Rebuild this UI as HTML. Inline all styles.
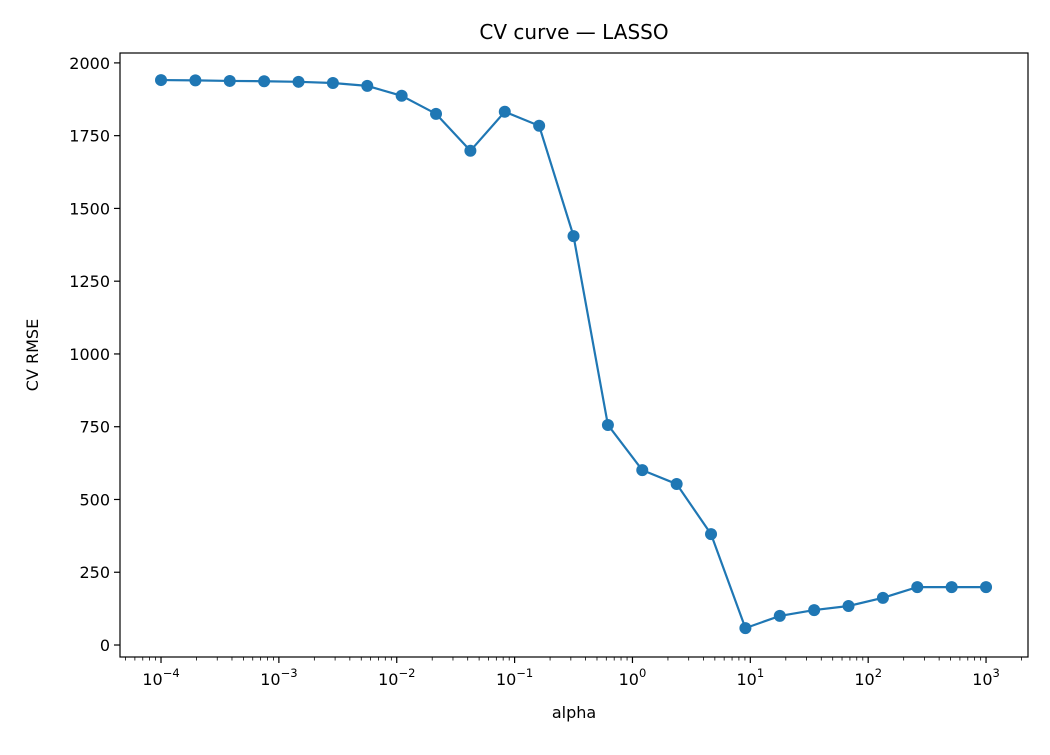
<!DOCTYPE html>
<html><head><meta charset="utf-8"><style>
body{margin:0;background:#fff;font-family:"Liberation Sans","DejaVu Sans",sans-serif;}
svg text{font-family:"DejaVu Sans","Liberation Sans",sans-serif;fill:#000;}
</style></head><body>
<svg id="chart" width="1050" height="750" xmlns="http://www.w3.org/2000/svg">
<rect width="1050" height="750" fill="#fff"/>
<text x="574" y="39" font-size="20" text-anchor="middle">CV curve — LASSO</text>
<text x="574" y="718" font-size="16" text-anchor="middle">alpha</text>
<text transform="translate(38,355) rotate(-90)" font-size="16" text-anchor="middle">CV RMSE</text>
<g id="ticks"></g>
<g id="series"></g>
<rect x="120" y="53" width="908" height="604" fill="none" stroke="#000" stroke-width="1.2"/>
</svg>
<script>
const alphaExp = [-4,-3.7083,-3.4167,-3.125,-2.8333,-2.5417,-2.25,-1.9583,-1.6667,-1.375,-1.0833,-0.7917,-0.5,-0.2083,0.0833,0.375,0.6667,0.9583,1.25,1.5417,1.8333,2.125,2.4167,2.7083,3];
const rmse = [1941,1940,1938,1937,1935,1931,1921,1887,1825,1698,1832,1784,1405,756,601,553,381,58,100,120,134,162,199,199,199];
const xTickExps = [-4,-3,-2,-1,0,1,2,3];
const yTicks = [0,250,500,750,1000,1250,1500,1750,2000];
const NS="http://www.w3.org/2000/svg";
const L=120,R=1028,T=53,B=657, xMin=-4.348, xMax=3.356, yMin=-41.2, yMax=2034;
function xs(e){return L+(e-xMin)/(xMax-xMin)*(R-L);}
function ys(v){return B-(v-yMin)/(yMax-yMin)*(B-T);}
function mk(tag,attrs,parent){const el=document.createElementNS(NS,tag);for(const k in attrs)el.setAttribute(k,attrs[k]);parent.appendChild(el);return el;}
const tg=document.getElementById('ticks'), sg=document.getElementById('series');
xTickExps.forEach(e=>{
  const x=xs(e);
  const t=mk('line',{x1:x,x2:x,y1:B,y2:B+6,stroke:'#000','stroke-width':1.2},tg);
  
  
  const tx=mk('text',{x:x,y:B+28,'font-size':16,'text-anchor':'middle'},tg);
  
  
  tx.innerHTML='10<tspan dy="-8" font-size="11.5">'+(e<0?'\u2212'+(-e):e)+'</tspan>';
});
for(let d=-5;d<=3;d++){for(let m=2;m<=9;m++){const e=d+Math.log10(m);if(e<xMin||e>xMax)continue;const x=xs(e);
  const t=mk('line',{x1:x,x2:x,y1:B,y2:B+3.5,stroke:'#000','stroke-width':0.8},tg);
  
  }}
yTicks.forEach(v=>{
  const y=ys(v);
  const t=mk('line',{x1:L-6,x2:L,y1:y,y2:y,stroke:'#000','stroke-width':1.2},tg);
  
  
  const tx=mk('text',{x:L-10,y:y+6,'font-size':16,'text-anchor':'end'},tg);
  
  
  tx.textContent=v;
});
const pts=alphaExp.map((e,i)=>xs(e)+','+ys(rmse[i])).join(' ');
const pl=mk('polyline',{points:pts,fill:'none',stroke:'#1f77b4','stroke-width':2.2},sg);


alphaExp.forEach((e,i)=>{
  const c=mk('circle',{cx:xs(e),cy:ys(rmse[i]),r:6,fill:'#1f77b4'},sg);
  
  
});
</script>
</body></html>
